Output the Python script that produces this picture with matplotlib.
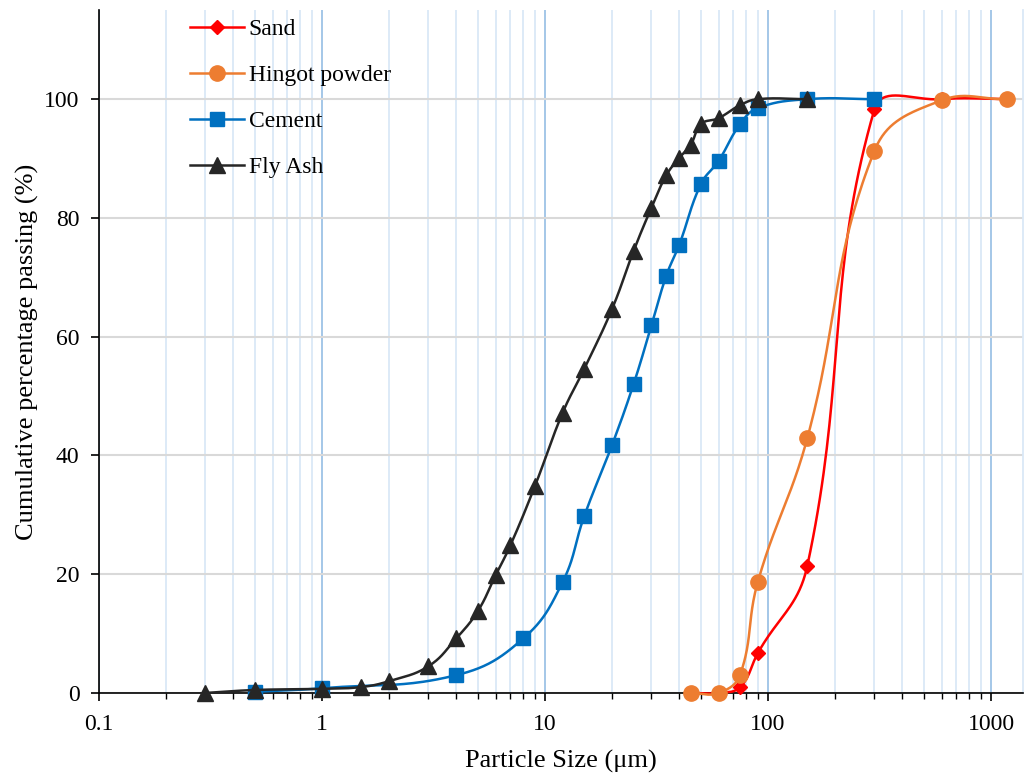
import numpy as np
import matplotlib
matplotlib.use("Agg")
import matplotlib.pyplot as plt
from matplotlib.ticker import LogLocator, FixedLocator, NullFormatter, FuncFormatter

plt.rcParams['font.family'] = ['Liberation Serif', 'DejaVu Serif']

# particle size (um) and cumulative % passing
sand_x = [45, 60, 75, 90, 150, 300, 600, 1180]
sand_y = [0, 0, 1.0, 6.7, 21.4, 98.3, 100, 100]

hingot_x = [45, 60, 75, 90, 150, 300, 600, 1180]
hingot_y = [0, 0, 3.1, 18.7, 42.9, 91.3, 99.8, 100]

cement_x = [0.5, 1, 4, 8, 12, 15, 20, 25, 30, 35, 40, 50, 60, 75, 90, 150, 300]
cement_y = [0.2, 0.8, 3.0, 9.2, 18.7, 29.8, 41.8, 52.1, 61.9, 70.3, 75.5, 85.7, 89.6, 95.8, 98.5, 100, 100]

flyash_x = [0.3, 0.5, 1, 1.5, 2, 3, 4, 5, 6, 7, 9, 12, 15, 20, 25, 30, 35, 40, 45, 50, 60, 75, 90, 150]
flyash_y = [0, 0.5, 0.7, 1.0, 2.0, 4.5, 9.2, 13.8, 19.8, 24.9, 34.8, 47.2, 54.6, 64.7, 74.5, 81.7, 87.2,
            90.1, 92.3, 95.8, 96.8, 99.0, 100, 100]


def smooth(xs, ys, n=40):
    # smoothed line like a spreadsheet chart: Bezier segments with tangents
    # scaled by chord lengths, worked out in (roughly) screen units
    sx, sy = 223.0, 5.95
    p = np.column_stack([np.log10(np.asarray(xs, float)) * sx, np.asarray(ys, float) * sy])
    p = np.vstack([p[0], p, p[-1]])
    t = np.linspace(0, 1, n)[:, None]
    out = []
    for i in range(1, len(p) - 2):
        p0, p1, p2, p3 = p[i - 1], p[i], p[i + 1], p[i + 2]
        d01 = np.hypot(*(p1 - p0))
        d12 = np.hypot(*(p2 - p1))
        d23 = np.hypot(*(p3 - p2))
        t1 = (p2 - p0) / (d01 + d12)
        t2 = (p3 - p1) / (d12 + d23)
        c1 = p1 + t1 * d12 / 2.4
        c2 = p2 - t2 * d12 / 2.4
        seg = ((1 - t) ** 3) * p1 + 3 * ((1 - t) ** 2) * t * c1 + 3 * (1 - t) * t ** 2 * c2 + t ** 3 * p2
        out.append(seg)
    out = np.vstack(out)
    return 10 ** (out[:, 0] / sx), out[:, 1] / sy


fig = plt.figure(figsize=(10.26, 7.76), dpi=100)
ax = fig.add_axes([0.0965, 0.107, 0.9005, 0.880])

series = [
    ("Sand", sand_x, sand_y, "#ff0000", "D", 7),
    ("Hingot powder", hingot_x, hingot_y, "#ed7d31", "o", 11),
    ("Cement", cement_x, cement_y, "#0070c0", "s", 10),
    ("Fly Ash", flyash_x, flyash_y, "#262626", "^", 11),
]

for k, (name, xs, ys, col, mk, ms) in enumerate(series):
    sx, sy = smooth(xs, ys)
    ax.plot(sx, sy, color=col, lw=1.8, zorder=3 + k, clip_on=False)
    ax.plot(xs, ys, linestyle='none', marker=mk, color=col, ms=ms, zorder=3 + k, clip_on=False)
    ax.plot([], [], color=col, lw=1.8, marker=mk, ms=ms, label=name)

ax.set_xscale('log')
ax.set_xlim(0.1, 1390)
ax.set_ylim(0, 115)
ax.set_yticks([0, 20, 40, 60, 80, 100])
ax.xaxis.set_major_locator(FixedLocator([0.1, 1, 10, 100, 1000]))
ax.xaxis.set_major_formatter(FuncFormatter(lambda v, p: f"{v:g}"))
ax.xaxis.set_minor_locator(LogLocator(base=10, subs=np.arange(2, 10), numticks=20))
ax.xaxis.set_minor_formatter(NullFormatter())

ax.grid(axis='y', color='#d9d9d9', lw=1.5, zorder=0)
ax.grid(axis='x', which='major', color='#9dc3e6', lw=1.3, zorder=0)
ax.grid(axis='x', which='minor', color='#dae8f7', lw=1.3, zorder=0)
ax.set_axisbelow(True)

ax.spines['top'].set_visible(False)
ax.spines['right'].set_color('#dae8f7')
ax.spines['right'].set_linewidth(1.3)
ax.spines['left'].set_linewidth(1.2)
ax.spines['bottom'].set_linewidth(1.2)

ax.tick_params(axis='both', which='major', direction='out', length=6, width=1.2, labelsize=17)
ax.tick_params(axis='y', which='major', pad=8)
ax.tick_params(axis='x', which='major', pad=9)
ax.tick_params(axis='x', which='minor', direction='out', length=4, width=1.0)
ax.tick_params(axis='y', right=False)

ax.set_xlabel("Particle Size (\u03bcm)", fontsize=19, labelpad=11)
ax.set_ylabel("Cumulative percentage passing (%)", fontsize=19, labelpad=4)

ax.legend(loc='upper left', bbox_to_anchor=(0.075, 1.019), frameon=False, fontsize=17,
          handlelength=2.3, labelspacing=1.04, handletextpad=0.2)

fig.savefig("out.png", dpi=100)
